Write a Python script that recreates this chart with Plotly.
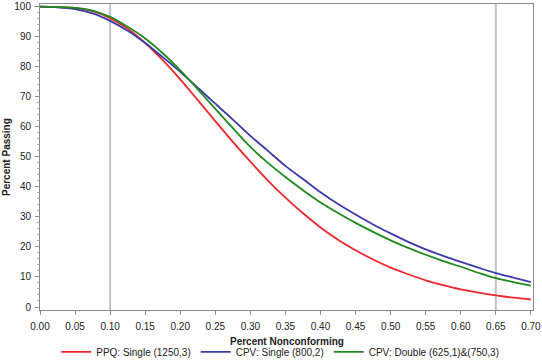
import plotly.graph_objects as go

pct_nonconforming = [0.0, 0.025, 0.05, 0.075, 0.10, 0.125, 0.15, 0.175, 0.20, 0.225,
                     0.25, 0.275, 0.30, 0.325, 0.35, 0.375, 0.40, 0.425, 0.45, 0.475,
                     0.50, 0.525, 0.55, 0.575, 0.60, 0.625, 0.65, 0.675, 0.70]

ppq_single = [100, 99.9, 99.6, 98.5, 96.2, 92.7, 87.9, 82.2, 75.8, 68.9,
              61.9, 55.0, 48.4, 42.1, 36.4, 31.2, 26.5, 22.4, 18.9, 15.8,
              13.1, 10.9, 8.9, 7.3, 5.9, 4.8, 3.9, 3.1, 2.5]

cpv_single = [100, 99.8, 99.2, 97.8, 95.3, 92.0, 87.9, 83.2, 78.3, 73.0,
              67.7, 62.4, 57.0, 52.0, 47.0, 42.6, 38.2, 34.3, 30.8, 27.5,
              24.5, 21.7, 19.2, 17.0, 15.0, 13.1, 11.3, 9.8, 8.3]

cpv_double = [100, 99.9, 99.6, 98.7, 96.6, 93.3, 89.4, 84.5, 78.8, 72.5,
              66.0, 59.6, 53.3, 48.0, 43.3, 38.9, 34.8, 31.3, 28.0, 25.0,
              22.2, 19.7, 17.4, 15.3, 13.4, 11.4, 9.6, 8.3, 7.1]

series_names = ["PPQ: Single (1250,3)", "CPV: Single (800,2)", "CPV: Double (625,1)&(750,3)"]
series_colors = ["#f0282d", "#3b3bab", "#1f8a1f"]
ref_lines = [0.10, 0.65]
x_title = "Percent Nonconforming"
y_title = "Percent Passing"

x_ticks = [round(i * 0.05, 2) for i in range(15)]
x_ticklabels = [f"{v:.2f}" for v in x_ticks]
y_ticks = list(range(0, 101, 10))

fig = go.Figure()
for name, ys, col in zip(series_names, [ppq_single, cpv_single, cpv_double], series_colors):
    fig.add_trace(go.Scatter(x=pct_nonconforming, y=ys, mode="lines", name=name,
                             line=dict(color=col, width=1.8, shape="spline", smoothing=1.0)))

for xv in ref_lines:
    fig.add_vline(x=xv, line=dict(color="#c4c4c4", width=2), layer="below")

font_family = "Liberation Sans, Arial, sans-serif"
title_font = dict(family=font_family, size=10, color="#222222")

fig.add_annotation(text=f"<b>{x_title}</b>", xref="paper", yref="paper", x=0.5, y=0,
                   yshift=-31, xanchor="center", yanchor="middle", showarrow=False,
                   font=title_font)
fig.add_annotation(text=f"<b>{y_title}</b>", xref="paper", yref="paper", x=0, y=0.5,
                   xshift=-34, xanchor="center", yanchor="middle", textangle=-90,
                   showarrow=False, font=title_font)

fig.update_layout(
    width=542, height=360,
    margin=dict(l=40, r=9, t=4, b=50, autoexpand=False),
    paper_bgcolor="white", plot_bgcolor="white",
    font=dict(family=font_family, size=10, color="#222222"),
    showlegend=True,
    legend=dict(orientation="h", xref="container", x=0.517, xanchor="center",
                yref="paper", y=-0.137, yanchor="middle",
                font=dict(size=10, color="#222222"), itemwidth=30, traceorder="normal",
                bgcolor="rgba(0,0,0,0)"),
    xaxis=dict(range=[0, 0.703], tickvals=x_ticks, ticktext=x_ticklabels,
               automargin=False, ticklabelstandoff=3,
               showgrid=False, zeroline=False, showline=True, linecolor="#8a8a8a",
               linewidth=1, mirror=True, ticks="outside", ticklen=4, tickcolor="#8a8a8a"),
    yaxis=dict(range=[-1, 100.9], tickvals=y_ticks, showgrid=False, zeroline=False,
               automargin=False, ticklabelstandoff=2,
               showline=True, linecolor="#8a8a8a", linewidth=1, mirror=True,
               ticks="outside", ticklen=4, tickcolor="#8a8a8a",
               minor=dict(ticks="outside", ticklen=2, dtick=2, tickcolor="#b0b0b0")),
)

fig.write_html("out.html", config={"displayModeBar": False},
               post_script="document.body.style.margin='0';")
